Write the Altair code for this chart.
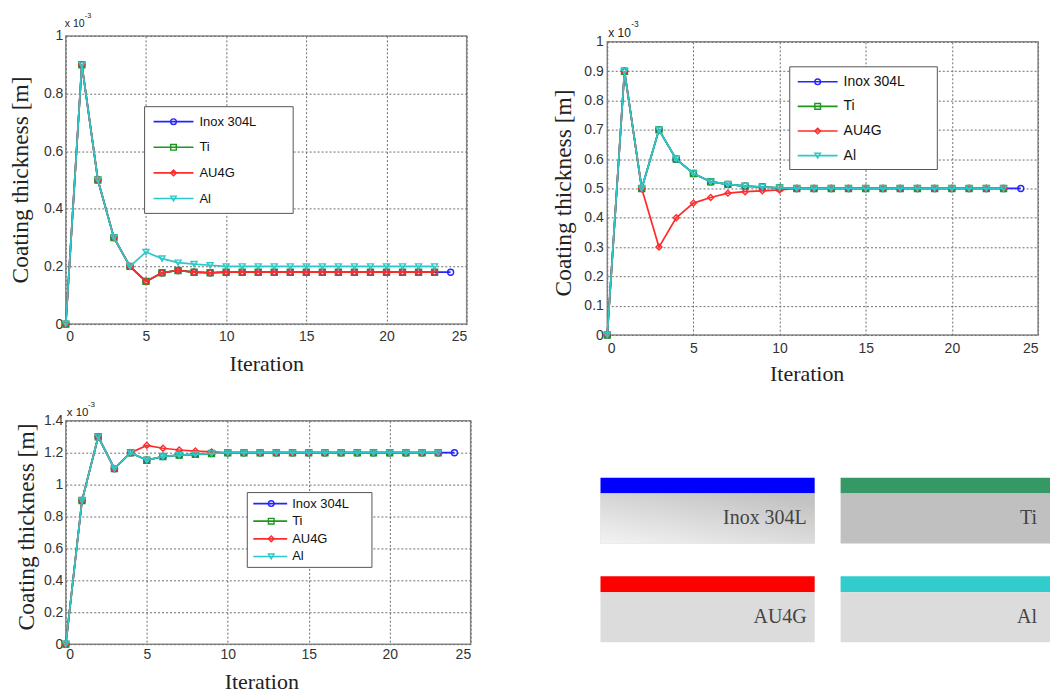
import altair as alt
import pandas as pd

# ---------------- data (values in units of 1e-3 m) ----------------
SERIES = ["Inox 304L", "Ti", "AU4G", "Al"]
LINE_COLORS = ["#2424ff", "#1f961f", "#ff2b2b", "#2fc8c8"]
SHAPES = ["circle", "square", "diamond", "triangle-down"]

ITER_LONG = [0, 1, 2, 3, 4, 5, 6, 7, 8, 9, 10, 11, 12, 13, 14, 15, 16, 17, 18, 19, 20, 21, 22, 23, 24]
ITER_SHORT = [0, 1, 2, 3, 4, 5, 6, 7, 8, 9, 10, 11, 12, 13, 14, 15, 16, 17, 18, 19, 20, 21, 22, 23]

# panel 1 (top-left)
P1_INOX = [0, 0.9, 0.5, 0.3, 0.2, 0.148, 0.178, 0.186, 0.18, 0.178, 0.18, 0.18, 0.18, 0.18, 0.18,
           0.18, 0.18, 0.18, 0.18, 0.18, 0.18, 0.18, 0.18, 0.18, 0.18]
P1_TI = [0, 0.9, 0.5, 0.3, 0.2, 0.148, 0.178, 0.186, 0.18, 0.178, 0.18, 0.18, 0.18, 0.18, 0.18,
         0.18, 0.18, 0.18, 0.18, 0.18, 0.18, 0.18, 0.18, 0.18]
P1_AU4G = [0, 0.9, 0.5, 0.3, 0.2, 0.148, 0.178, 0.186, 0.18, 0.178, 0.18, 0.18, 0.18, 0.18, 0.18,
           0.18, 0.18, 0.18, 0.18, 0.18, 0.18, 0.18, 0.18, 0.18]
P1_AL = [0, 0.9, 0.5, 0.3, 0.2, 0.25, 0.227, 0.213, 0.208, 0.204, 0.2, 0.2, 0.2, 0.2, 0.2,
         0.2, 0.2, 0.2, 0.2, 0.2, 0.2, 0.2, 0.2, 0.2]

# panel 2 (top-right)
P2_INOX = [0, 0.9, 0.5, 0.7, 0.6, 0.551, 0.523, 0.514, 0.508, 0.505, 0.502, 0.5, 0.5, 0.5, 0.5,
           0.5, 0.5, 0.5, 0.5, 0.5, 0.5, 0.5, 0.5, 0.5, 0.5]
P2_TI = [0, 0.9, 0.5, 0.7, 0.6, 0.551, 0.523, 0.514, 0.508, 0.505, 0.502, 0.5, 0.5, 0.5, 0.5,
         0.5, 0.5, 0.5, 0.5, 0.5, 0.5, 0.5, 0.5, 0.5]
P2_AU4G = [0, 0.9, 0.5, 0.3, 0.4, 0.45, 0.469, 0.484, 0.489, 0.492, 0.495, 0.5, 0.5, 0.5, 0.5,
           0.5, 0.5, 0.5, 0.5, 0.5, 0.5, 0.5, 0.5, 0.5]
P2_AL = [0, 0.9, 0.5, 0.7, 0.6, 0.551, 0.523, 0.514, 0.508, 0.505, 0.502, 0.5, 0.5, 0.5, 0.5,
         0.5, 0.5, 0.5, 0.5, 0.5, 0.5, 0.5, 0.5, 0.5]

# panel 3 (bottom-left)
P3_INOX = [0, 0.9, 1.3, 1.1, 1.2, 1.153, 1.176, 1.185, 1.19, 1.195, 1.2, 1.2, 1.2, 1.2, 1.2,
           1.2, 1.2, 1.2, 1.2, 1.2, 1.2, 1.2, 1.2, 1.2, 1.2]
P3_TI = [0, 0.9, 1.3, 1.1, 1.2, 1.153, 1.176, 1.185, 1.19, 1.195, 1.2, 1.2, 1.2, 1.2, 1.2,
         1.2, 1.2, 1.2, 1.2, 1.2, 1.2, 1.2, 1.2, 1.2]
P3_AU4G = [0, 0.9, 1.3, 1.1, 1.2, 1.246, 1.228, 1.217, 1.21, 1.205, 1.2, 1.2, 1.2, 1.2, 1.2,
           1.2, 1.2, 1.2, 1.2, 1.2, 1.2, 1.2, 1.2, 1.2]
P3_AL = [0, 0.9, 1.3, 1.1, 1.2, 1.153, 1.176, 1.185, 1.19, 1.195, 1.2, 1.2, 1.2, 1.2, 1.2,
         1.2, 1.2, 1.2, 1.2, 1.2, 1.2, 1.2, 1.2, 1.2]

X_TICKS = [0, 5, 10, 15, 20, 25]
Y_TICKS_1 = [0, 0.2, 0.4, 0.6, 0.8, 1]
Y_TICKS_2 = [0, 0.1, 0.2, 0.3, 0.4, 0.5, 0.6, 0.7, 0.8, 0.9, 1]
Y_TICKS_3 = [0, 0.2, 0.4, 0.6, 0.8, 1, 1.2, 1.4]

# material swatches (bottom-right)
BOX_LABELS = ["Inox 304L", "Ti", "AU4G", "Al"]
BOX_COLORS = ["#0000ff", "#359966", "#ff0000", "#33cccc"]
BOX_FILLS = ["#d0d0d0", "#c0c0c0", "#dcdcdc", "#dcdcdc"]


def long_df(lists):
    rows = []
    for name, vals in zip(SERIES, lists):
        its = ITER_LONG if len(vals) == len(ITER_LONG) else ITER_SHORT
        for i, v in zip(its, vals):
            rows.append({"series": name, "iter": i, "value": v})
    return pd.DataFrame(rows)


legend_df = pd.DataFrame({"series": SERIES, "idx": list(range(len(SERIES)))})

GRID = dict(grid=True, gridDash=[2, 2], gridColor="#6e6e6e", gridWidth=1, domain=False,
            ticks=False, tickSize=0, labelFont="Liberation Sans", labelFontSize=14,
            labelColor="#333333", titleFont="Liberation Serif",
            titleFontWeight="normal", titleColor="#222222", titleAlign="center",
            titleBaseline="middle")


def panel(lists, ymax, yticks, w, h, leg, xpow, xtitle, ytitle, xlabpad, ylabpad):
    df = long_df(lists)
    x_enc = alt.X("iter:Q", scale=alt.Scale(domain=[0, 25], nice=False),
                  axis=alt.Axis(values=X_TICKS, format="~g", title="Iteration",
                                labelPadding=xlabpad, titleX=xtitle[0], titleY=xtitle[1],
                                titleAngle=0, titleFontSize=22, **GRID))
    y_enc = alt.Y("value:Q", scale=alt.Scale(domain=[0, ymax], nice=False, zero=True),
                  axis=alt.Axis(values=yticks, format="~g", title="Coating thickness [m]",
                                labelPadding=ylabpad, titleX=ytitle[0], titleY=ytitle[1],
                                titleAngle=270, titleFontSize=23.5, **GRID))
    layers = []
    base = alt.Chart(df)
    for name, color, shape in zip(SERIES, LINE_COLORS, SHAPES):
        sub = base.transform_filter(alt.datum.series == name)
        layers.append(sub.mark_line(color=color, strokeWidth=1.7).encode(x=x_enc, y=y_enc))
        layers.append(sub.mark_point(shape=shape, color=color, filled=False, size=36,
                                     strokeWidth=1.4, opacity=1).encode(x=x_enc, y=y_enc))

    # legend box
    lbase = alt.Chart(legend_df)
    one = lbase.transform_filter("datum.idx == 0")
    layers.append(one.mark_rect(fill="white", stroke="#555555", strokeWidth=1).encode(
        x=alt.value(leg["box"][0]), x2=alt.value(leg["box"][1]),
        y=alt.value(leg["box"][2]), y2=alt.value(leg["box"][3])))
    rows = lbase.transform_calculate(ly=f"{leg['y0']} + datum.idx * {leg['dy']}")
    ly = alt.Y("ly:Q", scale=None, axis=None)
    col = alt.Color("series:N", scale=alt.Scale(domain=SERIES, range=LINE_COLORS), legend=None)
    layers.append(rows.mark_rule(strokeWidth=1.7).encode(
        x=alt.value(leg["line"][0]), x2=alt.value(leg["line"][1]), y=ly, color=col))
    layers.append(rows.mark_point(filled=False, size=32, strokeWidth=1.4, opacity=1).encode(
        x=alt.value(leg["marker"]), y=ly, color=col,
        shape=alt.Shape("series:N", scale=alt.Scale(domain=SERIES, range=SHAPES), legend=None)))
    layers.append(rows.mark_text(align="left", baseline="middle", font="Liberation Sans",
                                 fontSize=leg["fs"], color="#111111").encode(
        x=alt.value(leg["label"]), y=ly, text="series:N"))

    # "x 10^-3" multiplier
    layers.append(one.mark_text(text="x 10", align="left", baseline="middle",
                                font="Liberation Sans", fontSize=xpow["fs"], color="#222222").encode(
        x=alt.value(xpow["x"]), y=alt.value(xpow["y"])))
    layers.append(one.mark_text(text="-3", align="left", baseline="middle",
                                font="Liberation Sans", fontSize=xpow["fs"] * 0.7, color="#222222").encode(
        x=alt.value(xpow["sx"]), y=alt.value(xpow["sy"])))

    return alt.layer(*layers).properties(
        width=w, height=h, view=alt.ViewBackground(stroke="#8a8a8a", strokeWidth=1.5))


p1 = panel([P1_INOX, P1_TI, P1_AU4G, P1_AL], 1, Y_TICKS_1, 402, 289,
           dict(box=(79, 228, 71, 178), y0=86, dy=25.7, line=(88, 128), marker=108, label=134, fs=13),
           dict(x=-1, y=-12, sx=19, sy=-20, fs=10.5),
           (201, 40), (-45, 144), 5, 3)
p2 = panel([P2_INOX, P2_TI, P2_AU4G, P2_AL], 1, Y_TICKS_2, 432, 294,
           dict(box=(183, 331, 25, 128), y0=40, dy=24.7, line=(191, 231), marker=211, label=237, fs=14),
           dict(x=1, y=-9, sx=24, sy=-18, fs=12),
           (200, 39), (-44, 151), 7, 4)
p3 = panel([P3_INOX, P3_TI, P3_AU4G, P3_AL], 1.4, Y_TICKS_3, 406, 224,
           dict(box=(182, 307, 72, 147), y0=83, dy=17.7, line=(188, 222), marker=206, label=227, fs=13),
           dict(x=1, y=-8, sx=22, sy=-16, fs=11.5),
           (196, 37), (-39, 106), 3, 3)

# ---------------- swatch panel ----------------
box_df = pd.DataFrame({"label": BOX_LABELS, "bar": BOX_COLORS, "fill": BOX_FILLS,
                       "idx": list(range(len(BOX_LABELS)))})
bbase = alt.Chart(box_df).transform_calculate(
    col="datum.idx % 2", row="floor(datum.idx / 2)"
).transform_calculate(
    bx="datum.col * 241", bx2="datum.col * 241 + 215",
    by0="57 + datum.row * 99", by1="73 + datum.row * 99", by2="123 + datum.row * 99",
    tx="datum.col * 231 + 207", ty="98 + datum.row * 99")
bx = alt.X("bx:Q", scale=None, axis=None)
bars = bbase.mark_rect(clip=True).encode(
    x=bx, x2="bx2:Q", y=alt.Y("by0:Q", scale=None, axis=None), y2="by1:Q",
    fill=alt.Fill("bar:N", scale=None))
grays = bbase.mark_rect(clip=True).encode(
    x=bx, x2="bx2:Q", y=alt.Y("by1:Q", scale=None, axis=None), y2="by2:Q",
    fill=alt.Fill("fill:N", scale=None))
grad = bbase.transform_filter("datum.idx == 0").mark_rect(
    clip=True,
    fill=alt.Gradient(gradient="linear",
                      stops=[alt.GradientStop(color="#f3f3f3", offset=0),
                             alt.GradientStop(color="#c3c3c3", offset=1)],
                      x1=0, y1=1, x2=0.75, y2=0)).encode(
    x=bx, x2="bx2:Q", y=alt.Y("by1:Q", scale=None, axis=None), y2="by2:Q")
texts = bbase.mark_text(align="right", baseline="middle", font="Liberation Serif",
                        fontSize=20, color="#444444").encode(
    x=alt.X("tx:Q", scale=None, axis=None), y=alt.Y("ty:Q", scale=None, axis=None),
    text="label:N")
boxes = alt.layer(bars, grays, grad, texts).properties(width=451, height=224)

spacer = alt.Chart(legend_df).transform_filter("datum.idx == 0").mark_point(opacity=0).encode(
    x=alt.value(0), y=alt.value(0)).properties(width=10, height=6)

row1 = alt.hconcat(p1, alt.vconcat(spacer, p2, spacing=0, bounds="flush"),
                   spacing=141, bounds="flush")
row2 = alt.hconcat(p3, boxes, spacing=130, bounds="flush")

chart = alt.vconcat(row1, row2, spacing=14, bounds="full").properties(
    padding={"left": 8, "top": 10, "right": 0, "bottom": 0},
    background="white"
).configure_view(stroke="transparent")

chart.save("out.html", embed_options={"renderer": "svg", "actions": False})
